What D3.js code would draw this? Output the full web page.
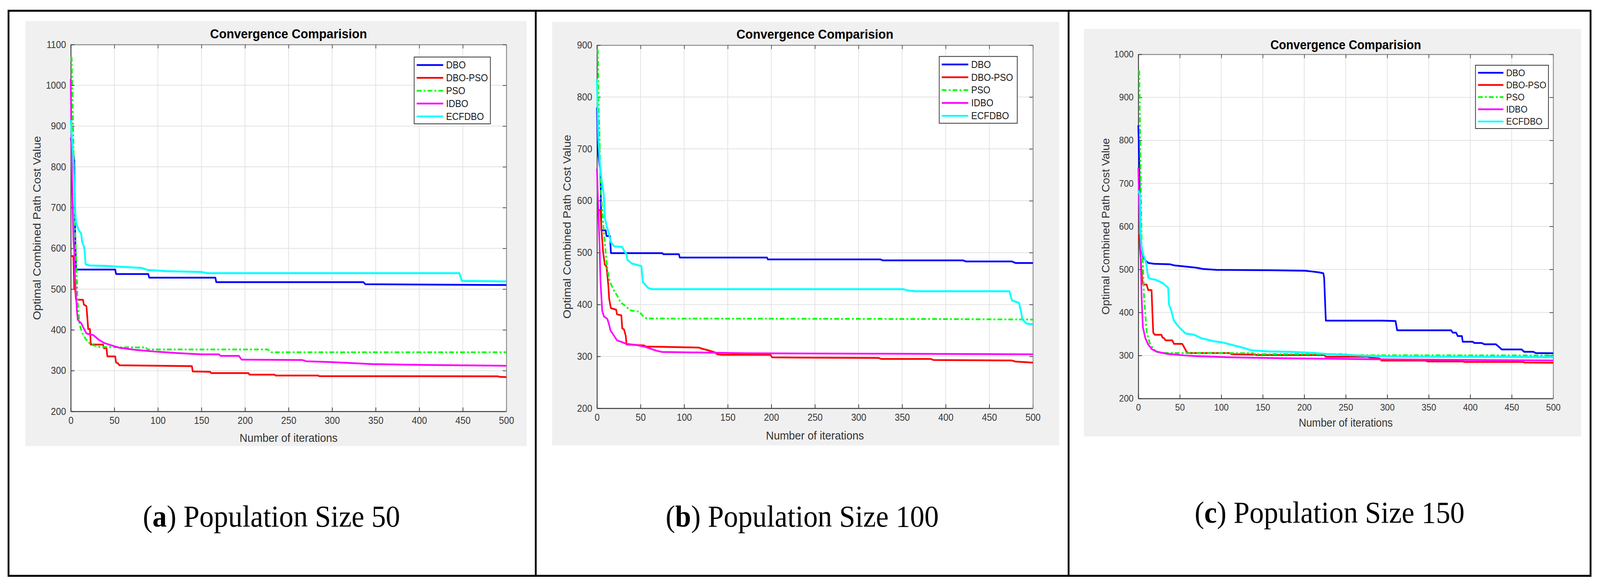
<!DOCTYPE html>
<html><head><meta charset="utf-8">
<script src="https://cdn.jsdelivr.net/npm/d3@7"></script>
<style>html,body{margin:0;padding:0;background:#fff;overflow:hidden;width:100%;height:100%;} svg{display:block;width:100vw;height:100vh;}</style>
</head><body>
<svg id="chart" viewBox="0 0 4408 1500" preserveAspectRatio="none"></svg>
<script>
// ---------------- DATA ----------------
const seriesNames = ["DBO", "DBO-PSO", "PSO", "IDBO", "ECFDBO"];
const chartTitle = "Convergence Comparision";
const xLabel = "Number of iterations";
const yLabel = "Optimal Combined Path Cost Value";
const xTicks = [0, 50, 100, 150, 200, 250, 300, 350, 400, 450, 500];
const yTicksA = [200, 300, 400, 500, 600, 700, 800, 900, 1000, 1100];
const yTicksB = [200, 300, 400, 500, 600, 700, 800, 900];
const yTicksC = [200, 300, 400, 500, 600, 700, 800, 900, 1000];
const captionLetters = ["a", "b", "c"];
const captionTexts = ["Population Size 50", "Population Size 100", "Population Size 150"];

// Panel (a) population 50 : [iteration, best cost]
const dboA = [[0,871],[2,845],[4,816],[5,640],[6,548],[51,548],[52,537],[89,537],[90,528],[166,528],[167,517],[336,517],[338,512],[500,510]];
const dboPsoA = [[0,581],[3,581],[4,500],[5,500],[6,474],[14,474],[15,462],[18,458],[19,430],[20,402],[22,402],[23,364],[37,364],[38,355],[41,355],[42,335],[51,335],[52,320],[54,318],[56,313],[139,311],[140,298],[160,297],[161,294],[204,294],[205,290],[234,290],[235,288],[284,288],[285,286.5],[490,286],[493,284.5],[500,284]];
const psoA = [[0,1068],[1,1068],[2,960],[3,860],[4,755],[5,660],[6,581],[8,465],[10,413],[13,393],[17,378],[23,364],[33,358],[60,357],[86,357],[88,352],[226,352],[230,345],[500,345]];
const idboA = [[0,1016],[1,813],[3,622],[4,593],[5,523],[7,449],[8,425],[12,416],[16,399],[18,391],[26,387],[32,376],[38,368],[45,363],[56,356],[74,351],[95,347],[122,343],[150,340],[170,340],[172,336],[193,336],[196,327],[266,326],[270,323],[298,321],[346,316],[400,314],[500,312]];
const ecfdboA = [[0,915],[1,880],[3,819],[5,697],[6,663],[9,645],[12,636],[13,616],[15,605],[16,593],[17,561],[21,558],[40,557],[53,555],[81,552],[88,547],[109,544],[150,542],[157,539],[446,539],[449,520],[500,519]];

// Panel (b) population 100
const dboB = [[0,780],[1,700],[3,668],[4,660],[5,543],[10,543],[11,532],[15,532],[16,499],[75,499],[76,497],[94,497],[95,490.5],[195,490.5],[196,487],[325,487],[328,485],[420,485],[423,483],[476,483],[480,480],[500,480]];
const dboPsoB = [[0,582],[4,582],[5,548],[7,502],[9,477],[11,473],[13,438],[14,411],[16,393],[22,390],[23,381],[28,379],[29,354],[31,352],[33,340],[34,323],[54,321],[56,319],[117,317],[120,315],[127,312],[135,308],[138,304],[143,303],[199,303],[201,298],[323,297],[326,295],[383,295],[386,293],[476,292],[480,290],[500,288]];
const psoB = [[0,890],[1,890],[2,780],[3,721],[4,630],[6,584],[8,539],[10,502],[12,466],[15,443],[20,425],[23,418],[27,404],[33,397],[37,390],[40,388],[49,386],[52,379],[57,373],[390,372],[500,371]];
const idboB = [[0,662],[1.5,584],[3,516],[4,447],[6,388],[8,377],[12,372],[14,361],[15.5,350],[17.5,345],[23,331],[28,328],[34,324],[45,322],[56,318],[68,311],[75,308.5],[137,307],[172,306],[500,304]];
const ecfdboB = [[0,835],[1.5,721],[3.6,666],[5.7,634],[7.8,612],[9.2,566],[11.3,550],[13.4,539],[16,520],[20,512],[29,511],[31.5,502],[33.6,498],[35,486],[40,479],[51,474],[52.6,443],[56.5,436],[59,431.5],[63.5,429.5],[352,429.5],[356,427],[366,425.5],[473,425.5],[476,408],[484,403],[486,390],[488,371],[493,363],[500,362]];

// Panel (c) population 150
const dboC = [[0,835],[1.2,746],[2,642],[3.4,554],[6,528],[9,520],[12,515],[19,513],[38,512],[43,509.5],[60,506],[70,504],[78,501],[94,499],[160,498],[201,497],[210,495],[218,493],[223,491],[224,480],[226,381],[293,381],[310,380],[312,358.5],[377,358.5],[379,353],[383,353],[385,345],[390,345],[391,332],[403,332],[405,329],[414,329],[417,326],[431,326],[434,321],[438,314],[462,314],[465,308.5],[476,308.5],[479,305.5],[500,305]];
const dboPsoC = [[0,580],[1,580],[3,520],[5,470],[6,465],[10,465],[11,458],[12,452],[16,452],[17,400],[18,353],[20,348],[28,348],[29,342],[31,340],[33,335],[41,335],[43,327],[53,327],[55,320],[58,309],[60,305.5],[110,305.5],[113,303],[141,302],[143,301],[224,301],[226,297],[276,297],[280,295],[291,293],[293,288],[346,288],[349,286],[391,286],[393,285],[463,285],[466,283.5],[500,283]];
const psoC = [[0,960],[1.2,960],[2.6,746],[4,564],[5.5,512],[7,434],[10,356],[13.6,330],[18,314.5],[24,306.5],[41,305.5],[138,305.4],[140,303],[250,303],[253,300.5],[500,300]];
const idboC = [[0,736],[1.2,642],[2.6,549],[4,434],[5.5,366],[8.5,340],[12,325],[16.5,314.5],[22,309],[34,304],[56,300],[72,298.4],[113,295.5],[182,293.3],[293,291],[403,289.4],[500,288.4]];
const ecfdboC = [[0,684],[1.9,673],[2.6,590],[4,549],[6.3,533],[9.2,517],[12,481],[15,478],[21,476],[29.6,468],[36,457.5],[37,418.5],[40,403],[42.7,382],[45.6,374],[50,364],[57,351],[67.5,348],[76,340],[91,333],[102,330],[114,324],[128,317],[136,312],[157,309.5],[182,308.5],[210,306],[229,303],[251,301.4],[273,299.3],[320,297.5],[500,296.3]];

// ---------------- STYLE / LAYOUT ----------------
const colors = ["#0000ff", "#ff0000", "#00ff00", "#ff00ff", "#00ffff"];
const dashes = [null, null, "13,6,5,6", null, null];
const sans = "'Liberation Sans', Arial, Helvetica, sans-serif";
const serif = "'Liberation Serif', 'Times New Roman', serif";

const panels = [
  {series:[dboA, dboPsoA, psoA, idboA, ecfdboA], yTicks:yTicksA,
   gray:{x:70,y:54,w:1381,h:1088}, plot:{x:195,y:114,w:1200,h:939},
   legend:{dx:44,dy:32,w:210,h:171}, fs:1, titleOff:16, xlabOff:78, ylabOff:83, capX:748, capY:1348},
  {series:[dboB, dboPsoB, psoB, idboB, ecfdboB], yTicks:yTicksB,
   gray:{x:1521,y:56,w:1397,h:1084}, plot:{x:1644.6,y:115.5,w:1201,h:929.5},
   legend:{dx:43,dy:29,w:215,h:171}, fs:1, titleOff:16, xlabOff:80, ylabOff:72, capX:2210, capY:1348},
  {series:[dboC, dboPsoC, psoC, idboC, ecfdboC], yTicks:yTicksC,
   gray:{x:2986,y:74,w:1370,h:1043}, plot:{x:3136,y:139,w:1143,h:881},
   legend:{dx:13,dy:28,w:201,h:162}, fs:0.96, titleOff:13, xlabOff:72, ylabOff:80, capX:3663, capY:1338}
];

const svg = d3.select("#chart");
svg.append("rect").attr("x",0).attr("y",0).attr("width",4408).attr("height",1500).attr("fill","#fff");

panels.forEach((p, pi) => {
  const g = svg.append("g");
  const P = p.plot;
  const yMax = p.yTicks[p.yTicks.length - 1];
  const x = d3.scaleLinear().domain([0, 500]).range([P.x, P.x + P.w]);
  const y = d3.scaleLinear().domain([200, yMax]).range([P.y + P.h, P.y]);

  g.append("rect").attr("x",p.gray.x).attr("y",p.gray.y).attr("width",p.gray.w).attr("height",p.gray.h).attr("fill","#f0f0f0");
  g.append("rect").attr("x",P.x).attr("y",P.y).attr("width",P.w).attr("height",P.h).attr("fill","#fff");

  // grid
  g.append("g").selectAll("line").data(xTicks.slice(1, -1)).join("line")
    .attr("x1", d => x(d)).attr("x2", d => x(d)).attr("y1", P.y).attr("y2", P.y + P.h)
    .attr("stroke", "#e2e2e2").attr("stroke-width", 2);
  g.append("g").selectAll("line").data(p.yTicks.slice(1, -1)).join("line")
    .attr("x1", P.x).attr("x2", P.x + P.w).attr("y1", d => y(d)).attr("y2", d => y(d))
    .attr("stroke", "#e2e2e2").attr("stroke-width", 2);

  const fsTick = 25 * p.fs, fsLab = 30 * p.fs;
  const fmt = d3.format("d");

  // axes (inward ticks)
  const axB = g.append("g").attr("transform", `translate(0,${P.y + P.h})`)
    .call(d3.axisBottom(x).tickValues(xTicks).tickFormat(fmt).tickSize(-10).tickSizeOuter(0).tickPadding(14));
  const axT = g.append("g").attr("transform", `translate(0,${P.y})`)
    .call(d3.axisTop(x).tickValues(xTicks).tickSize(-10).tickSizeOuter(0).tickFormat(""));
  const axL = g.append("g").attr("transform", `translate(${P.x},0)`)
    .call(d3.axisLeft(y).tickValues(p.yTicks).tickFormat(fmt).tickSize(-10).tickSizeOuter(0).tickPadding(13));
  const axR = g.append("g").attr("transform", `translate(${P.x + P.w},0)`)
    .call(d3.axisRight(y).tickValues(p.yTicks).tickSize(-10).tickSizeOuter(0).tickFormat(""));
  [axB, axL].forEach(a => {
    a.select(".domain").attr("stroke", "#3a3a3a").attr("stroke-width", 2.5);
    a.selectAll(".tick line").attr("stroke", "#3a3a3a").attr("stroke-width", 2);
    a.selectAll(".tick text").attr("fill", "#383838").attr("font-family", sans).attr("font-size", fsTick);
  });
  [axT, axR].forEach(a => {
    a.select(".domain").attr("stroke", "#8c8c8c").attr("stroke-width", 2.5);
    a.selectAll(".tick line").attr("stroke", "#555").attr("stroke-width", 2);
  });
  axB.selectAll(".tick text").attr("dy", "0.71em");

  // curves
  const line = d3.line().x(d => x(d[0])).y(d => y(d[1]));
  p.series.forEach((s, si) => {
    g.append("path").datum(s).attr("d", line)
      .attr("fill", "none").attr("stroke", colors[si])
      .attr("stroke-width", si === 4 ? 5 : 4.5)
      .attr("stroke-linejoin", "round")
      .attr("stroke-dasharray", dashes[si]);
  });

  // title and labels
  g.append("text").attr("x", P.x + P.w / 2).attr("y", P.y - p.titleOff)
    .attr("text-anchor", "middle").attr("font-family", sans).attr("font-weight", "bold")
    .attr("font-size", 34 * p.fs).attr("fill", "#000").text(chartTitle);
  g.append("text").attr("x", P.x + P.w / 2).attr("y", P.y + P.h + p.xlabOff)
    .attr("text-anchor", "middle").attr("font-family", sans)
    .attr("font-size", fsLab).attr("fill", "#333").text(xLabel);
  g.append("text").attr("transform", `translate(${P.x - p.ylabOff},${P.y + P.h / 2}) rotate(-90)`)
    .attr("text-anchor", "middle").attr("font-family", sans)
    .attr("font-size", fsLab).attr("fill", "#333").text(yLabel);

  // legend
  const L = p.legend;
  const lx = P.x + P.w - L.dx - L.w, ly = P.y + L.dy;
  const lg = g.append("g").attr("transform", `translate(${lx},${ly})`);
  lg.append("rect").attr("width", L.w).attr("height", L.h).attr("fill", "#fff")
    .attr("stroke", "#333").attr("stroke-width", 2);
  const rowH = L.h / 5.2;
  seriesNames.forEach((name, si) => {
    const cy = rowH * 0.62 + rowH * si;
    lg.append("line").attr("x1", 7).attr("x2", 80 * p.fs).attr("y1", cy).attr("y2", cy)
      .attr("stroke", colors[si]).attr("stroke-width", 4.5).attr("stroke-dasharray", dashes[si]);
    lg.append("text").attr("x", 88 * p.fs).attr("y", cy).attr("dy", "0.35em")
      .attr("font-family", sans).attr("font-size", fsTick).attr("fill", "#1a1a1a").text(name);
  });

  // caption
  const cap = svg.append("text").attr("x", p.capX).attr("y", p.capY).attr("text-anchor", "middle")
    .attr("font-family", serif).attr("font-size", 79).attr("fill", "#000");
  cap.append("tspan").text("(");
  cap.append("tspan").attr("font-weight", "bold").text(captionLetters[pi]);
  cap.append("tspan").text(") " + captionTexts[pi]);
});

// table frame
svg.append("rect").attr("x", 23.5).attr("y", 27.5).attr("width", 4358.5).attr("height", 1446.5)
  .attr("fill", "none").attr("stroke", "#000").attr("stroke-width", 5);
[1476, 2944].forEach(xx => svg.append("line").attr("x1", xx).attr("x2", xx).attr("y1", 27.5).attr("y2", 1474)
  .attr("stroke", "#000").attr("stroke-width", 5));
</script>
</body></html>
